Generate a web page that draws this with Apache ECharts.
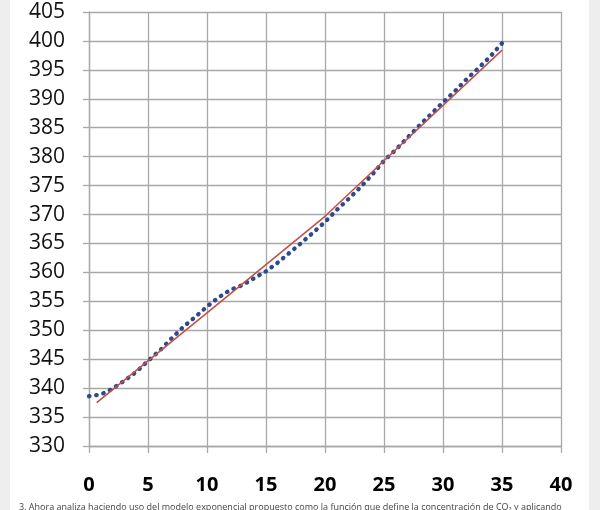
<!DOCTYPE html>
<html>
<head>
<meta charset="utf-8">
<script src="https://cdn.jsdelivr.net/npm/echarts@6/dist/echarts.min.js"></script>
<style>
html,body{margin:0;padding:0;background:#fff;}
#chart{width:600px;height:510px;}
</style>
</head>
<body>
<div id="chart"></div>
<script>
// x positions (years since start)
const years = [0,1,2,3,4,5,6,7,8,9,10,11,12,13,14,15,16,17,18,19,20,21,22,23,24,25,26,27,28,29,30,31,32,33,34,35];
// observed CO2 values (blue dotted line)
const co2 = [338.6,338.9,339.9,341.3,342.8,344.7,346.5,348.6,350.6,352.3,354.1,355.7,357.0,357.8,359.0,360.2,361.7,363.4,365.1,366.9,368.7,370.8,372.7,374.7,376.9,379.3,381.2,383.3,385.4,387.4,389.4,391.3,393.4,395.3,397.3,399.6];
// model line (red) vertices
const modelX = [0.65,10,20,25,35];
const modelY = [337.5,353.0,369.7,379.3,398.4];
// axis ticks
const xTicks = [0,5,10,15,20,25,30,35,40];
const yTicks = [330,335,340,345,350,355,360,365,370,375,380,385,390,395,400,405];

const chart = echarts.init(document.getElementById('chart'), null, {renderer:'canvas'});
const gridColor = '#a8a8a8';
chart.setOption({
  animation:false,
  backgroundColor:'#ffffff',
  grid:{left:89, right:39, top:12, bottom:64, containLabel:false},
  graphic:[
    {type:'rect', shape:{x:0,y:0,width:10,height:510}, style:{fill:'#eeeeee'}, silent:true},
    {type:'rect', shape:{x:589,y:0,width:11,height:510}, style:{fill:'#eeeeee'}, silent:true},
    {type:'text', left:19, top:503, style:{text:'3. Ahora analiza haciendo uso del modelo exponencial propuesto como la función que define la concentración de CO\u2082 y aplicando', font:'9px "Open Sans"', fill:'#444'}, silent:true}
  ],
  xAxis:{
    type:'value', min:xTicks[0], max:xTicks[xTicks.length-1], interval:5,
    axisLine:{show:true, onZero:false, lineStyle:{color:gridColor, width:1.3}},
    axisTick:{show:true, inside:false, length:7, lineStyle:{color:gridColor, width:1.3}},
    splitLine:{show:true, lineStyle:{color:gridColor, width:1.3}},
    axisLabel:{color:'#000', fontFamily:'Open Sans', fontWeight:'bold', fontSize:20, margin:29}
  },
  yAxis:{
    type:'value', min:yTicks[0], max:yTicks[yTicks.length-1], interval:5,
    axisLine:{show:true, onZero:false, lineStyle:{color:gridColor, width:1.3}},
    axisTick:{show:true, inside:false, length:6, lineStyle:{color:gridColor, width:1.3}},
    splitLine:{show:true, lineStyle:{color:gridColor, width:1.3}},
    axisLabel:{color:'#111', fontFamily:'Open Sans', fontSize:21, margin:24}
  },
  series:[
    {
      type:'line', name:'CO2', showSymbol:false, symbol:'none',
      data: years.map((x,i)=>[x, co2[i]]),
      lineStyle:{color:'#2d4a8a', width:4.3, type:[0.5,6.8], cap:'round'},
      z:2
    },
    {
      type:'line', name:'Modelo', showSymbol:false, symbol:'none',
      data: modelX.map((x,i)=>[x, modelY[i]]),
      lineStyle:{color:'#c4504a', width:1.6},
      z:3
    }
  ]
});
</script>
</body>
</html>
